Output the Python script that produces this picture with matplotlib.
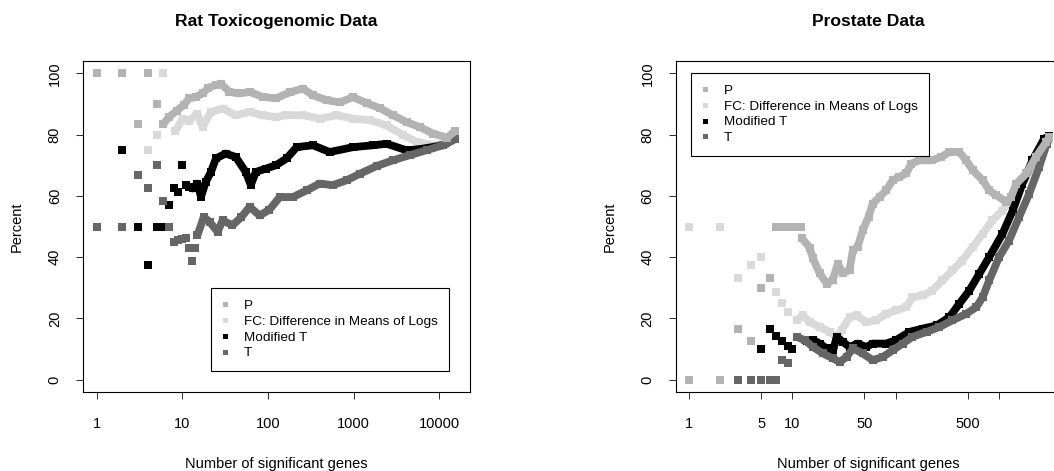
import matplotlib
matplotlib.use("Agg")
import matplotlib.pyplot as plt
from matplotlib.lines import Line2D

plt.rcParams['font.family'] = ['Liberation Sans', 'DejaVu Sans']

# ---------------- data: Rat Toxicogenomic ----------------
rat_p_n = [1, 2, 3, 4, 5]
rat_p_v = [100, 100, 83.3, 100, 90]
rat_p_trace_n = [6, 7, 8.6, 10.5, 12, 14.4, 17.2, 20.2, 24.7, 28.2, 35.5, 46.4, 61, 87, 124,
                 180, 256, 334, 486, 690, 980, 1430, 2030, 2880, 4200, 5960, 8450, 12300, 15100]
rat_p_trace_v = [83.4, 85.8, 87.7, 89.8, 91.8, 92.3, 93.4, 95.3, 96.1, 96.6, 93.9, 93.4, 93.9, 92.3, 91.8,
                 93.8, 95.0, 92.8, 91.2, 90.5, 92.2, 90.2, 88.6, 86.3, 84.0, 82.4, 80.3, 79.0, 81.0]

rat_fc_n = [4, 5, 6]
rat_fc_v = [75, 80, 100]
rat_fc_trace_n = [8.3, 10.1, 12, 15, 17.2, 21.6, 29.6, 42, 61, 87, 124, 164, 256, 405, 630, 990,
                  1540, 2420, 3800, 5450, 8500, 12000, 15100]
rat_fc_trace_v = [81.2, 85.2, 84.5, 86.8, 82.5, 87.4, 88.5, 86.3, 87.4, 86.3, 85.7, 86.3, 86.3, 85.2, 86.3, 85.2,
                  84.7, 83.0, 79.8, 77.6, 76.5, 77.0, 79.0]

rat_mt_n = [2, 3, 4, 5, 6, 7, 8, 9, 10, 11]
rat_mt_v = [75, 50, 37.5, 50, 50, 57.1, 62.5, 61.1, 70, 63.6]
rat_mt_trace_n = [12, 13.2, 15, 16.5, 18.8, 21.6, 24.7, 32, 42, 55, 63, 72, 95, 124, 165, 216, 335,
                  525, 990, 1680, 2430, 4200, 6400, 11000, 15100]
rat_mt_trace_v = [63, 62.4, 64.0, 59.7, 64.6, 67.8, 72.2, 73.8, 72.7, 67.8, 63.5, 67.8, 68.9, 70.0, 72.2, 75.9, 76.5,
                  74.3, 75.9, 76.5, 77.0, 74.8, 75.4, 76.5, 78.5]

rat_t_n = [1, 2, 3, 4, 5, 6, 7, 8, 9, 10, 11, 12, 13, 14]
rat_t_v = [50, 50, 66.7, 62.5, 70, 58.3, 50, 45, 45.5, 46, 46.1, 43, 38.6, 43]
rat_t_trace_n = [15, 17.8, 20.9, 25.8, 29.5, 38.5, 49, 61, 80, 104, 137, 195, 284, 400, 570, 830,
                 1180, 1880, 2880, 4540, 7100, 11000, 15100]
rat_t_trace_v = [47.1, 53.1, 51.5, 48.2, 52.0, 50.4, 53.1, 56.4, 53.6, 55.5, 59.6, 59.6, 61.8, 64.0, 63.5, 65.1,
                 67.2, 69.8, 71.6, 73.3, 74.9, 76.5, 78.5]

# ---------------- data: Prostate ----------------
pro_p_n = [1, 2, 3, 4, 5, 6, 7, 8, 9, 10, 11, 12]
pro_p_v = [0, 0, 16.7, 12.5, 30, 33.3, 50, 50, 50, 50, 50, 50]
pro_p_trace_n = [12.4, 14.7, 15.8, 18.4, 21.5, 24.6, 27.6, 30.8, 35.8, 38.6, 43, 48, 54.8, 60, 70, 81, 94,
                 109, 127, 142, 170, 227, 278, 333, 416, 485, 560, 700, 810, 950, 1190, 1320, 1480,
                 1860, 2300, 2900, 3100]
pro_p_trace_v = [46.1, 43.1, 39.6, 34.7, 31.4, 32.5, 37.9, 34.7, 35.8, 42.3, 43.4, 48.7, 53.1, 57.4, 59.6, 61.8, 65.1,
                 66.2, 67.3, 70.5, 71.6, 71.6, 72.7, 74.3, 74.3, 71.6, 68.4, 65.1, 61.8, 60.2, 58.0, 59.6, 63.9,
                 67.3, 72.7, 77.6, 79.2]

pro_fc_n = [1, 2, 3, 4, 5, 7, 8, 9]
pro_fc_v = [50, 50, 33.3, 37.5, 40, 28.6, 25, 22.2]
pro_fc_trace_n = [11, 12.7, 14.7, 18.4, 23, 26.9, 30, 35.8, 42, 52, 65, 81, 101, 127, 146, 183, 227,
                  285, 357, 445, 560, 700, 870, 1090, 1370, 1700, 2130, 2670, 3100]
pro_fc_trace_v = [19.4, 21.0, 18.8, 17.2, 15.6, 14.0, 16.1, 20.4, 21.0, 18.8, 19.4, 21.5, 22.6, 23.7, 26.9, 27.5, 29.1,
                  32.4, 35.7, 38.9, 43.3, 47.6, 52.0, 55.2, 59.6, 63.9, 69.4, 74.8, 78.1]

pro_mt_n = [3, 4, 5, 6, 7, 8, 9, 10]
pro_mt_v = [0, 0, 10, 16.7, 14.3, 12.5, 11.1, 10]
pro_mt_trace_n = [14, 16, 18.4, 21.5, 24.6, 26.9, 31, 35.8, 43, 52, 60, 81, 101, 136, 183, 250, 333,
                  416, 520, 650, 810, 1090, 1370, 1700, 2130, 2770, 3100]
pro_mt_trace_v = [12.5, 13.0, 11.8, 10.2, 9.1, 14.0, 12.3, 10.7, 11.8, 10.7, 11.8, 11.8, 12.9, 15.6, 16.7, 17.7, 20.4,
                  24.8, 29.1, 34.6, 40.0, 47.6, 55.2, 63.9, 71.6, 78.7, 79.5]

pro_t_n = [3, 4, 5, 6, 7, 8, 9]
pro_t_v = [0, 0, 0, 0, 0, 6.3, 5.6]
pro_t_trace_n = [11, 13.2, 15.8, 19.7, 24.6, 28.7, 33.5, 38.6, 48, 60, 75, 94, 117, 146, 200, 266, 357,
                 485, 608, 700, 810, 1010, 1260, 1580, 1980, 2470, 2930, 3100]
pro_t_trace_v = [14.0, 12.9, 10.7, 8.6, 7.0, 5.8, 7.4, 10.2, 8.6, 6.4, 7.4, 9.6, 11.8, 14.0, 15.6, 17.2, 19.4,
                 21.5, 23.7, 26.9, 32.4, 40.0, 45.4, 53.1, 60.7, 69.4, 77.0, 79.2]

labels = ['P', 'FC: Difference in Means of Logs', 'Modified T', 'T']
colors = ['#b3b3b3', '#d9d9d9', '#000000', '#666666']

W, H = 1054, 471
fig = plt.figure(figsize=(W / 100, H / 100), dpi=100)

MS = 5.2   # square marker size (pt)
LW = 5.6   # band width for dense part


def draw_series(ax, n, v, tn, tv, color):
    ax.plot(tn, tv, '-', color=color, lw=LW, solid_joinstyle='round', solid_capstyle='butt', zorder=2)
    ax.plot(tn, tv, 's', color=color, ms=MS, mew=0, zorder=2)
    ax.plot(n, v, 's', color=color, ms=MS, mew=0, zorder=2)


def style_axes(ax, title, xlim, xticks, xticklabels, legend_anchor):
    ax.set_xscale('log')
    ax.set_xlim(*xlim)
    ax.set_ylim(-4, 104)
    ax.set_xticks(xticks)
    ax.set_xticklabels(xticklabels)
    ax.xaxis.set_minor_locator(matplotlib.ticker.NullLocator())
    ax.set_yticks([0, 20, 40, 60, 80, 100])
    ax.set_yticklabels(['0', '20', '40', '60', '80', '100'], rotation=90, va='center')
    ax.tick_params(direction='out', length=5, width=0.75, labelsize=10.5, color='#333333')
    ax.tick_params(axis='x', pad=13)
    ax.tick_params(axis='y', pad=10.5)
    for s in ax.spines.values():
        s.set_linewidth(0.8)
    ax.set_xlabel('Number of significant genes', fontsize=10.5, labelpad=18.5)
    ax.set_ylabel('Percent', fontsize=10.5, labelpad=17)
    ax.set_title(title, fontsize=12.6, fontweight='bold', pad=25)

    handles = [Line2D([], [], ls='none', marker='s', color=c, ms=3.6, mew=0) for c in colors]
    leg = ax.legend(handles, labels, loc='upper left', bbox_to_anchor=legend_anchor,
                    borderaxespad=0, fontsize=9.7, frameon=True, fancybox=False,
                    edgecolor='black', framealpha=1, borderpad=0.85, labelspacing=0.25,
                    handlelength=0.4, handletextpad=1.17)
    leg.get_frame().set_linewidth(0.8)


# left panel
ax1 = fig.add_axes([83.3 / W, (H - 392) / H, (470 - 83.3) / W, (392 - 61) / H])
draw_series(ax1, rat_fc_n, rat_fc_v, rat_fc_trace_n, rat_fc_trace_v, colors[1])
draw_series(ax1, rat_mt_n, rat_mt_v, rat_mt_trace_n, rat_mt_trace_v, colors[2])
draw_series(ax1, rat_t_n, rat_t_v, rat_t_trace_n, rat_t_trace_v, colors[3])
draw_series(ax1, rat_p_n, rat_p_v, rat_p_trace_n, rat_p_trace_v, colors[0])
style_axes(ax1, 'Rat Toxicogenomic Data', (10 ** -0.156, 10 ** 4.358),
           [1, 10, 100, 1000, 10000], ['1', '10', '100', '1000', '10000'], (0.331, 0.314))

# right panel (runs past the right edge of the figure, as in the original)
ax2 = fig.add_axes([676 / W, (H - 392) / H, (1061.3 - 676) / W, (392 - 61) / H])
draw_series(ax2, pro_fc_n, pro_fc_v, pro_fc_trace_n, pro_fc_trace_v, colors[1])
draw_series(ax2, pro_mt_n, pro_mt_v, pro_mt_trace_n, pro_mt_trace_v, colors[2])
draw_series(ax2, pro_t_n, pro_t_v, pro_t_trace_n, pro_t_trace_v, colors[3])
draw_series(ax2, pro_p_n, pro_p_v, pro_p_trace_n, pro_p_trace_v, colors[0])
style_axes(ax2, 'Prostate Data', (10 ** -0.129, 10 ** 3.608),
           [1, 5, 10, 50, 100, 500, 1000], ['1', '5', '10', '50', '', '500', ''], (0.039, 0.964))

fig.savefig('out.png', dpi=100)
